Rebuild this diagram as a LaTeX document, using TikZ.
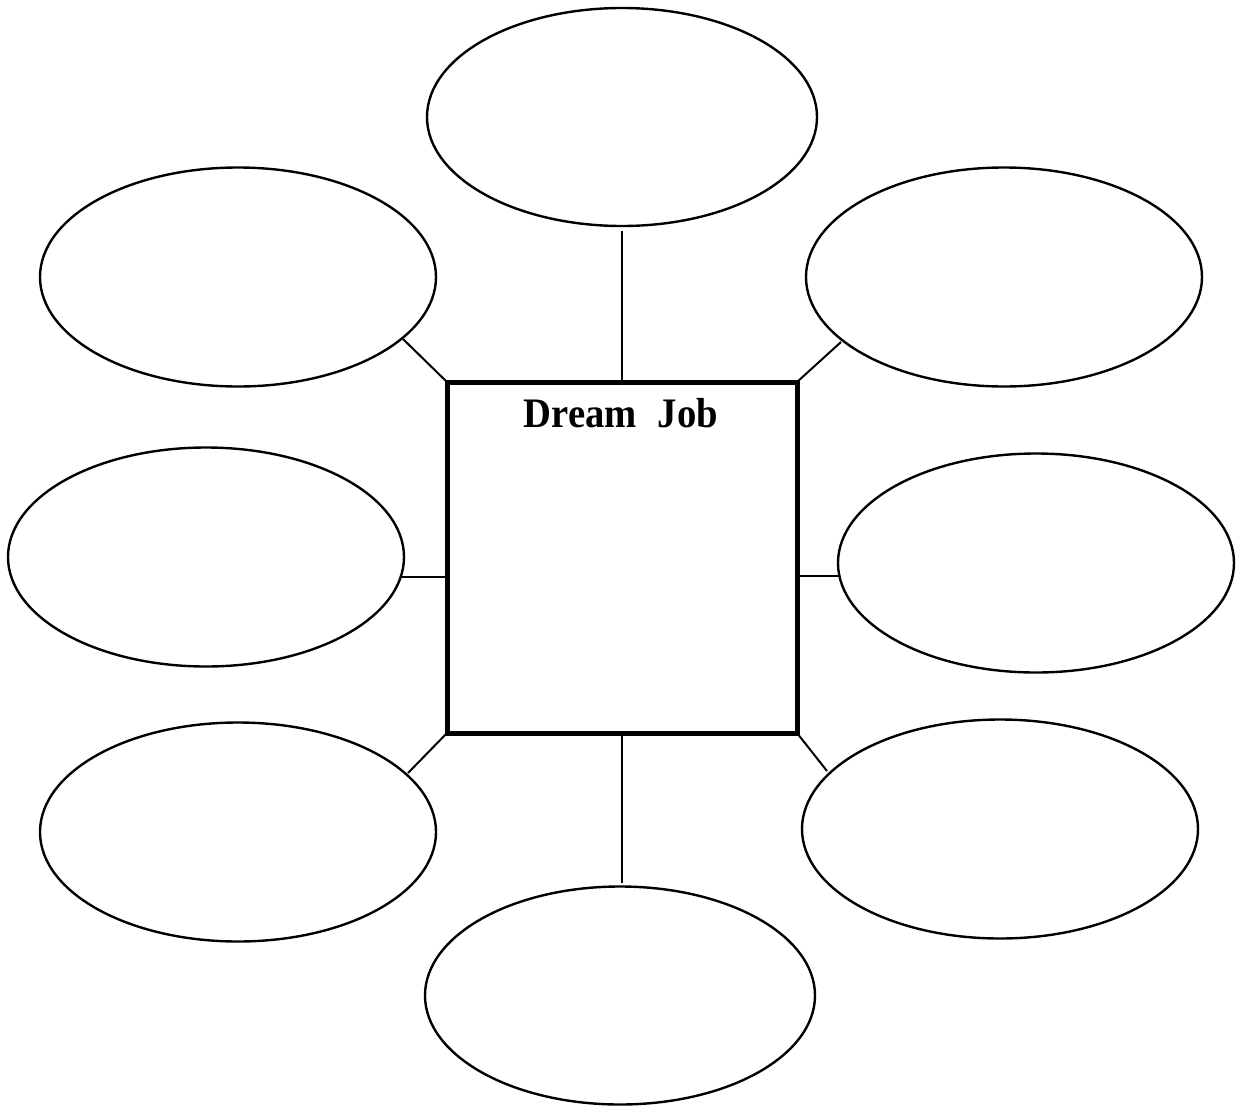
\documentclass[tikz,border=0pt]{standalone}
\usepackage{fontspec}
\setmainfont{Liberation Serif}
\newfontfamily\titlefont[FakeStretch=0.92]{Liberation Serif}
\usetikzlibrary{shapes.geometric}
\begin{document}
\begin{tikzpicture}[x=1pt,y=-1pt,
  bubble/.style={draw, ellipse, line width=2.4pt, inner sep=0pt, outer sep=0pt,
                 minimum width=396pt, minimum height=219pt},
  bubbletb/.style={bubble, minimum width=390pt, minimum height=218pt},
  hub/.style={draw, line width=5pt, inner sep=0pt, outer sep=0pt,
              minimum width=350pt, minimum height=351pt},
  link/.style={line width=2pt}]
\useasboundingbox (0,0) rectangle (1239,1106);
% bubbles
\node[bubbletb] (top) at (622,117) {};
\node[bubble] (ul) at (238,277) {};
\node[bubble] (ur) at (1004,277) {};
\node[bubble] (ml) at (206,557) {};
\node[bubble] (mr) at (1036,563) {};
\node[bubble] (ll) at (238,832) {};
\node[bubble] (lr) at (1000,829) {};
\node[bubbletb] (bot) at (620,995.5) {};
% connector ends
\coordinate (topend) at (622,231);
\coordinate (ulend) at (403,339);
\coordinate (urend) at (841,342);
\coordinate (mlend) at (402,577);
\coordinate (mrend) at (839,576);
\coordinate (llend) at (408,773);
\coordinate (lrend) at (827,771);
\coordinate (botend) at (622,883);
% hub
\node[hub] (sq) at (622,557.5) {};
\coordinate (sqt) at (622,382);
\coordinate (sqb) at (622,733);
\coordinate (sql) at (447,577);
\coordinate (sqr2) at (800,576);
\draw[link] (sqt) -- (topend);
\draw[link] (sq.north west) -- (ulend);
\draw[link] (sq.north east) -- (urend);
\draw[link] (sql) -- (mlend);
\draw[link] (sqr2) -- (mrend);
\draw[link] (sq.south west) -- (llend);
\draw[link] (sq.south east) -- (lrend);
\draw[link] (sqb) -- (botend);
\node[anchor=base, inner sep=0pt] (title) at (621,427)
  {\titlefont\fontsize{42}{50}\selectfont\bfseries Dream\hspace{21pt}Job};
\end{tikzpicture}
\end{document}
